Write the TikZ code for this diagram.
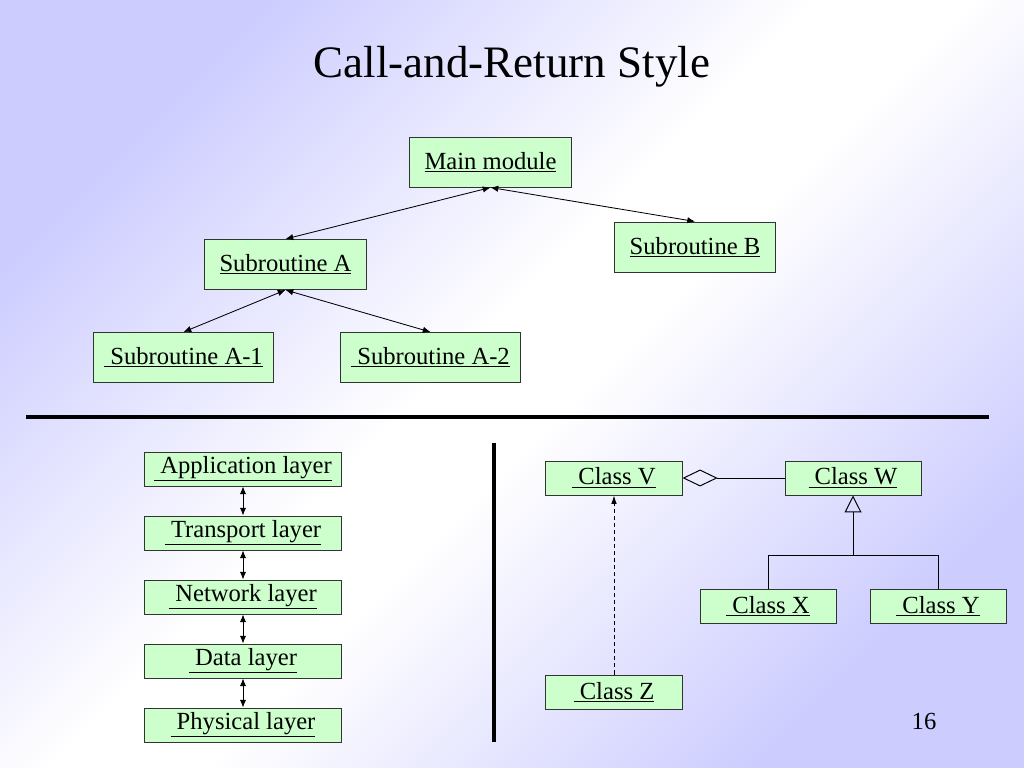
\documentclass[tikz,border=0pt]{standalone}
\usepackage{fontspec}
\setmainfont{Liberation Serif}
\newfontfamily\slidefont{Liberation Serif}
\usetikzlibrary{arrows.meta, positioning}
\definecolor{boxgreen}{RGB}{204,255,204}
\definecolor{slideblue}{RGB}{204,204,255}
\pgfdeclareverticalshading{slidebg}{100bp}{color(0bp)=(slideblue); color(25bp)=(slideblue); color(47bp)=(white); color(53bp)=(white); color(75bp)=(slideblue); color(100bp)=(slideblue)}

\begin{document}
\begin{tikzpicture}[x=0.025cm, y=-0.025cm,
    every node/.style={font=\slidefont\fontsize{17.5}{20}\selectfont},
    module/.style={rectangle, draw=black!80, fill=boxgreen, line width=0.7pt, inner sep=0pt, minimum width=4.025cm, minimum height=1.25cm},
    layer/.style={module, minimum width=4.9cm, minimum height=0.85cm},
    umlclass/.style={module, minimum width=3.4cm, minimum height=0.85cm},
    call/.style={{Latex[length=5.5pt,width=4.5pt]}-{Latex[length=5.5pt,width=4.5pt]}, line width=0.6pt}
]
\useasboundingbox (0,0) rectangle (1024,768);
\shade[shading=slidebg, shading angle=45] (0,0) rectangle (1024,768);

\node[font=\slidefont\fontsize{32}{36}\selectfont] (title) at (512,67) {Call-and-Return Style};

% call tree
\node[module] (main) at (490.5,162) {\underline{Main module}};
\node[module] (subA) at (285.5,264.5) {\underline{Subroutine A}};
\node[module] (subB) at (695,247) {\underline{Subroutine B}};
\node[module, minimum width=4.475cm] (subAone) at (183.5,357.5) {\underline{\ Subroutine A-1}};
\node[module, minimum width=4.475cm] (subAtwo) at (430.5,357.5) {\underline{\ Subroutine A-2}};

\draw[call] (main.south) -- (subA.north);
\draw[call] (main.south) -- (subB.north);
\draw[call] (subA.south) -- (subAone.north);
\draw[call] (subA.south) -- (subAtwo.north);

% dividers
\coordinate (divL) at (26,417);
\coordinate (divR) at (989,417);
\coordinate (divT) at (494,443);
\coordinate (divB) at (494,742);
\draw[line width=2.8pt] (divL) -- (divR);
\draw[line width=2.8pt] (divT) -- (divB);

% layers
\node[layer] (app) at (243,469) {\underline{\ Application layer}};
\node[layer] (trans) at (243,533) {\underline{\ Transport layer}};
\node[layer] (net) at (243,597) {\underline{\ Network layer}};
\node[layer] (data) at (243,661) {\underline{\ Data layer}};
\node[layer] (phys) at (243,725) {\underline{\ Physical layer}};

\draw[call] (app) -- (trans);
\draw[call] (trans) -- (net);
\draw[call] (net) -- (data);
\draw[call] (data) -- (phys);

% classes
\node[umlclass] (clsV) at (614,478) {\underline{\ Class V}};
\node[umlclass] (clsW) at (853,478) {\underline{\ Class W}};
\node[umlclass] (clsX) at (768,606) {\underline{\ Class X}};
\node[umlclass] (clsY) at (938,606) {\underline{\ Class Y}};
\node[umlclass] (clsZ) at (614,692) {\underline{\ Class Z}};

\draw[{Diamond[open,length=25pt,width=12pt]}-, line width=0.7pt] (clsV) -- (clsW);
\coordinate (join) at (853,555);
\draw[line width=0.7pt] (clsX.north) -- (clsX.north |- join) -- (clsY.north |- join) -- (clsY.north);
\draw[-{Triangle[open,length=12pt,width=12pt]}, line width=0.7pt] (join) -- (clsW.south);
\draw[dashed, dash pattern=on 3pt off 2pt, -{Latex[length=6pt,width=4pt]}, line width=0.6pt] (clsZ) -- (clsV);

\node (pagenum) at (924,721) {16};
\end{tikzpicture}
\end{document}
